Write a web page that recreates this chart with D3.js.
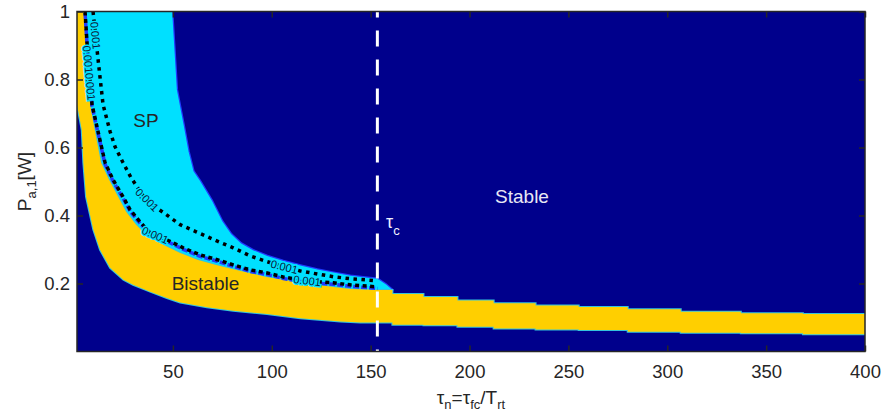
<!DOCTYPE html>
<html><head><meta charset="utf-8">
<script src="https://cdn.jsdelivr.net/npm/d3@7"></script>
<style>
html,body{margin:0;padding:0;background:#fff;}
svg{display:block;font-family:"Liberation Sans",Arial,Helvetica,sans-serif;}
</style></head><body>
<svg id="chart" width="883" height="417"></svg>
<script>
// Stability map of the normalised delay τn versus pump power Pa,1 [W]
const tauTicks = [50, 100, 150, 200, 250, 300, 350, 400];
const powerTicks = [0.2, 0.4, 0.6, 0.8, 1];
const tauC = 153.4;

// Bistable region: upper edge (towards SP) [τn, P]
const bistableTop = [
  [5.06, 1.0], [6.58, 0.859], [8.10, 0.726], [10.63, 0.647], [13.67, 0.555],
  [17.72, 0.505], [22.28, 0.455], [26.33, 0.411], [31.39, 0.373], [36.96, 0.340],
  [45.06, 0.314], [53.67, 0.290], [62.28, 0.270], [71.39, 0.255], [80.0, 0.243],
  [88.61, 0.231], [97.22, 0.219], [105.82, 0.211], [114.43, 0.202], [123.04, 0.196],
  [131.14, 0.190], [139.75, 0.184], [153.42, 0.181], [161.0, 0.181]
];
// Bistable region: lower edge (towards stable) [τn, P]
const bistableBottom = [
  [1.0, 1.02], [1.0, 0.726], [1.5, 0.726], [3.9, 0.652], [4.71, 0.555], [6.08, 0.455],
  [9.77, 0.358], [13.16, 0.299], [18.23, 0.246], [24.96, 0.211], [29.87, 0.196],
  [38.48, 0.176], [46.94, 0.157], [53.67, 0.144], [67.19, 0.130], [80.51, 0.120],
  [97.57, 0.110], [114.43, 0.098], [134.7, 0.088], [144.8, 0.085], [161.0, 0.085]
];
// Coarse grid cells beyond τc: cell edges and band limits per cell
const tailEdges = [161.0, 176.7, 193.9, 212.2, 233.4, 255.2, 280.0, 306.8, 337.2, 368.6, 400];
const tailTop = [0.169, 0.160, 0.150, 0.142, 0.135, 0.131, 0.124, 0.117, 0.1125, 0.110];
const tailBottom = [0.079, 0.077, 0.073, 0.068, 0.065, 0.063, 0.058, 0.055, 0.0535, 0.051];

// SP region: outer edge towards stable [τn, P]
const spEdge = [
  [49.62, 1.0], [52.0, 0.770], [55.34, 0.669], [57.87, 0.589], [60.41, 0.530],
  [63.8, 0.501], [69.87, 0.442], [74.94, 0.383], [79.5, 0.345], [84.5, 0.318],
  [90.5, 0.298], [97.72, 0.281], [105.82, 0.266], [114.43, 0.253], [123.04, 0.241],
  [131.14, 0.232], [139.75, 0.223], [148.35, 0.217], [153.42, 0.214], [157.97, 0.196],
  [161.0, 0.181]
];

// 0.001 contour lines [τn, P]
const contourUpper = [
  [9.62, 1.0], [12.15, 0.859], [14.68, 0.726], [18.23, 0.647], [20.76, 0.602],
  [24.81, 0.555], [28.86, 0.511], [34.94, 0.458], [40.0, 0.429], [46.08, 0.405],
  [53.67, 0.373], [61.77, 0.352], [71.90, 0.326], [80.51, 0.305], [89.11, 0.281],
  [97.72, 0.264], [106.33, 0.249], [114.43, 0.237], [123.04, 0.228], [131.14, 0.220],
  [139.75, 0.214], [153.42, 0.208]
];
const contourLower = [
  [5.57, 1.0], [7.09, 0.859], [9.11, 0.726], [12.15, 0.647], [15.70, 0.555],
  [19.75, 0.505], [24.81, 0.455], [28.35, 0.417], [33.42, 0.381], [38.48, 0.349],
  [47.09, 0.328], [55.19, 0.305], [63.80, 0.284], [72.41, 0.270], [80.51, 0.255],
  [89.11, 0.240], [97.72, 0.231], [105.82, 0.219], [114.43, 0.211], [123.04, 0.205],
  [131.14, 0.202], [139.75, 0.196], [153.42, 0.190]
];
const contourText = "0.001";

const plotL = 77, plotR = 865, plotT = 11.5, plotB = 351.5;

const svg = d3.select("#chart");
const x = d3.scaleLinear().domain([1.5, 400]).range([plotL, plotR]);
const y = d3.scaleLinear().domain([0, 1]).range([plotB, plotT]);

const NAVY = "#00008c", CYAN = "#00e0ff", YELLOW = "#ffcf00", BLUE = "#1f3cff";

svg.append("defs").append("clipPath").attr("id", "plotClip")
  .append("rect").attr("x", plotL).attr("y", plotT)
  .attr("width", plotR - plotL).attr("height", plotB - plotT);

const plot = svg.append("g").attr("clip-path", "url(#plotClip)");

plot.append("rect").attr("x", plotL).attr("y", plotT)
  .attr("width", plotR - plotL).attr("height", plotB - plotT).attr("fill", NAVY);

const line = d3.line().x(d => x(d[0])).y(d => y(d[1]));

function steps(edges, vals) {
  const pts = [];
  vals.forEach((v, i) => { pts.push([edges[i], v]); pts.push([edges[i + 1], v]); });
  return pts;
}

// SP (self-pulsing) region
const spPoly = spEdge.concat(bistableTop.slice().reverse());
plot.append("path").attr("d", line(spPoly) + "Z")
  .attr("fill", CYAN).attr("stroke", BLUE).attr("stroke-width", 2.5)
  .attr("stroke-linejoin", "round").style("paint-order", "stroke");

// Bistable region
const upperEdge = bistableTop.concat(steps(tailEdges, tailTop));
const lowerEdge = bistableBottom.concat(steps(tailEdges, tailBottom));
const bistablePoly = upperEdge.concat(lowerEdge.slice().reverse());
plot.append("path").attr("d", line(bistablePoly) + "Z")
  .attr("fill", YELLOW).attr("stroke", "#35c4dc").attr("stroke-width", 2)
  .style("paint-order", "stroke");

// contour lines
plot.append("path").attr("d", line(contourLower))
  .attr("transform", "translate(0,1.5)")
  .attr("fill", "none").attr("stroke", BLUE).attr("stroke-width", 3.5)
  .attr("stroke-dasharray", "6,2");
plot.append("path").attr("d", line(contourLower))
  .attr("fill", "none").attr("stroke", "#000").attr("stroke-width", 3.5)
  .attr("stroke-dasharray", "4,3.5");
plot.append("path").attr("d", line(contourUpper))
  .attr("fill", "none").attr("stroke", "#000").attr("stroke-width", 3.5)
  .attr("stroke-dasharray", "3.5,4.5");

// contour labels placed along the lines
function contourLabel(pts, i, t, halo) {
  const a = pts[i], b = pts[i + 1];
  const px = x(a[0]) + (x(b[0]) - x(a[0])) * t;
  const py = y(a[1]) + (y(b[1]) - y(a[1])) * t;
  const ang = Math.atan2(y(b[1]) - y(a[1]), x(b[0]) - x(a[0])) * 180 / Math.PI;
  plot.append("text").text(contourText)
    .attr("transform", `translate(${px},${py}) rotate(${ang})`)
    .attr("text-anchor", "middle").attr("dominant-baseline", "central")
    .attr("font-size", 11).attr("fill", "#0a1a3a")
    .attr("stroke", halo).attr("stroke-width", 3).style("paint-order", "stroke");
}
contourLabel(contourUpper, 0, 0.5, CYAN);
contourLabel(contourLower, 1, 0.0, CYAN);
contourLabel(contourLower, 1, 0.6, CYAN);
contourLabel(contourUpper, 7, 0.4, CYAN);
contourLabel(contourLower, 9, 0.3, CYAN);
contourLabel(contourUpper, 16, 0.0, CYAN);
contourLabel(contourLower, 18, 0.4, CYAN);

// critical delay τc
plot.append("line")
  .attr("x1", x(tauC)).attr("x2", x(tauC))
  .attr("y1", y(1)).attr("y2", y(0))
  .attr("stroke", "#fff").attr("stroke-width", 3)
  .attr("stroke-dasharray", "16,13").attr("stroke-dashoffset", 10);

// region names
const lab = svg.append("g").attr("font-size", 19);
lab.append("text").attr("x", 146).attr("y", 127).attr("text-anchor", "middle")
  .attr("fill", "#262626").text("SP");
lab.append("text").attr("x", 205.5).attr("y", 290).attr("text-anchor", "middle")
  .attr("fill", "#262626").text("Bistable");
lab.append("text").attr("x", 522).attr("y", 203).attr("text-anchor", "middle")
  .attr("fill", "#e8e8f4").text("Stable");
const tc = lab.append("text").attr("x", 386).attr("y", 228).attr("fill", "#f0f0ff").attr("font-size", 18);
tc.append("tspan").text("τ");
tc.append("tspan").attr("dy", 7).attr("font-size", 13).text("c");

// axes
const axisColor = "#262626";
function styleAxis(g) {
  g.selectAll(".domain").remove();
  g.selectAll(".tick line").attr("stroke", axisColor).attr("stroke-width", 1.5);
}
const gb = svg.append("g").attr("transform", `translate(0,${plotB})`)
  .call(d3.axisBottom(x).tickValues(tauTicks).tickSize(-6).tickSizeOuter(0));
gb.selectAll("text").attr("y", 26).attr("dy", null)
  .attr("font-size", 18.5).attr("fill", axisColor);
gb.attr("font-family", null);
styleAxis(gb);
const gt = svg.append("g").attr("transform", `translate(0,${plotT})`)
  .call(d3.axisTop(x).tickValues(tauTicks).tickSize(-6).tickSizeOuter(0).tickFormat(""));
styleAxis(gt);
const gl = svg.append("g").attr("transform", `translate(${plotL},0)`)
  .call(d3.axisLeft(y).tickValues(powerTicks).tickSize(-6).tickSizeOuter(0).tickFormat(d3.format("")));
gl.selectAll("text").attr("x", -7).attr("dy", "0.35em")
  .attr("font-size", 18.5).attr("fill", axisColor);
gl.attr("font-family", null);
styleAxis(gl);
const gr = svg.append("g").attr("transform", `translate(${plotR},0)`)
  .call(d3.axisRight(y).tickValues(powerTicks).tickSize(-6).tickSizeOuter(0).tickFormat(""));
styleAxis(gr);
svg.append("rect").attr("x", plotL).attr("y", plotT)
  .attr("width", plotR - plotL).attr("height", plotB - plotT)
  .attr("fill", "none").attr("stroke", axisColor).attr("stroke-width", 1.5);

// axis titles
const xt = svg.append("text").attr("x", (plotL + plotR) / 2).attr("y", 404)
  .attr("text-anchor", "middle").attr("font-size", 19).attr("fill", axisColor);
xt.append("tspan").text("τ");
xt.append("tspan").attr("dy", 5).attr("font-size", 13).text("n");
xt.append("tspan").attr("dy", -5).text("=τ");
xt.append("tspan").attr("dy", 5).attr("font-size", 13).text("fc");
xt.append("tspan").attr("dy", -5).text("/T");
xt.append("tspan").attr("dy", 5).attr("font-size", 13).text("rt");

const yt = svg.append("text")
  .attr("transform", `translate(31,${(plotT + plotB) / 2}) rotate(-90)`)
  .attr("text-anchor", "middle").attr("font-size", 19).attr("fill", axisColor);
yt.append("tspan").text("P");
yt.append("tspan").attr("dy", 5).attr("font-size", 13).text("a,1");
yt.append("tspan").attr("dy", -5).text("[W]");
</script>
</body></html>
